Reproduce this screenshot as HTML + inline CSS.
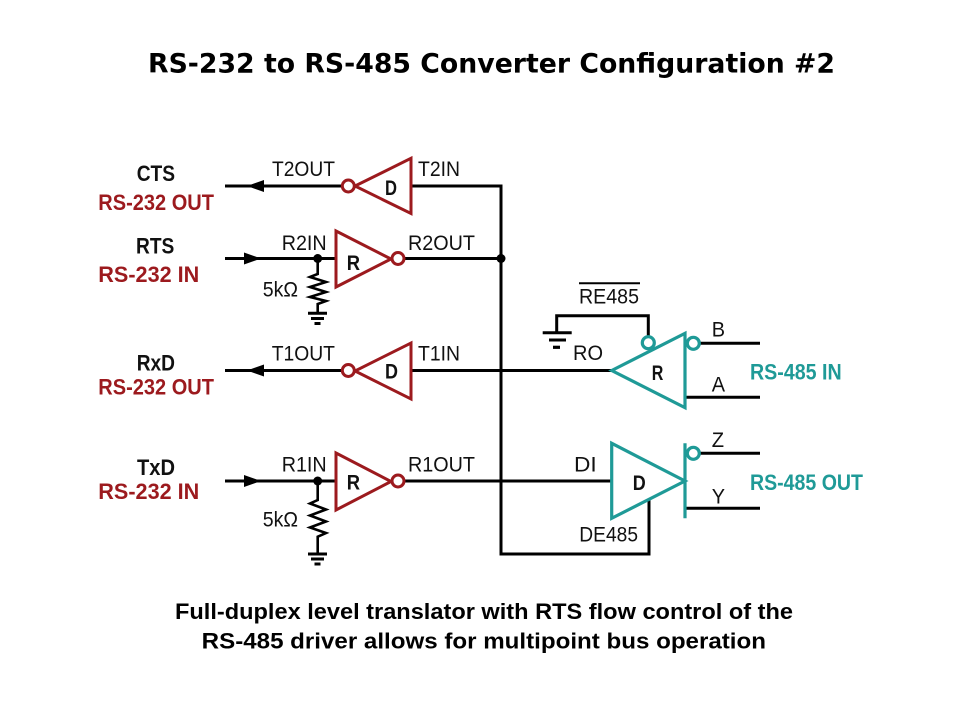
<!DOCTYPE html>
<html>
<head>
<meta charset="utf-8">
<style>
html,body{margin:0;padding:0;background:#fff;}
svg{display:block;}
.pin{font-family:"Liberation Sans",sans-serif;font-size:21px;fill:#111;}
.gate{font-family:"Liberation Sans",sans-serif;font-weight:bold;font-size:21px;fill:#111;}
.lb{font-family:"Liberation Sans",sans-serif;font-weight:bold;font-size:22.5px;fill:#111;}
.lr{font-family:"Liberation Sans",sans-serif;font-weight:bold;font-size:22.5px;fill:#9c1a1e;}
.lt{font-family:"Liberation Sans",sans-serif;font-weight:bold;font-size:22.5px;fill:#1f9a97;}
</style>
</head>
<body>
<svg width="960" height="720" viewBox="0 0 960 720" xmlns="http://www.w3.org/2000/svg">
<rect width="960" height="720" fill="#fff"/>

<!-- Title -->
<text x="148" y="72.3" font-family="'DejaVu Sans',sans-serif" font-weight="bold" font-size="27" fill="#000" textLength="687" lengthAdjust="spacingAndGlyphs">RS-232 to RS-485 Converter Configuration #2</text>

<!-- Left labels -->
<text class="lb" x="136.7" y="181" textLength="38.3" lengthAdjust="spacingAndGlyphs">CTS</text>
<text class="lr" x="98.3" y="210" textLength="115.7" lengthAdjust="spacingAndGlyphs">RS-232 OUT</text>
<text class="lb" x="136" y="253.7" textLength="38.3" lengthAdjust="spacingAndGlyphs">RTS</text>
<text class="lr" x="98.3" y="282" textLength="101" lengthAdjust="spacingAndGlyphs">RS-232 IN</text>
<text class="lb" x="136.7" y="370.7" textLength="38.3" lengthAdjust="spacingAndGlyphs">RxD</text>
<text class="lr" x="98.3" y="394.3" textLength="115.7" lengthAdjust="spacingAndGlyphs">RS-232 OUT</text>
<text class="lb" x="137" y="475" textLength="38" lengthAdjust="spacingAndGlyphs">TxD</text>
<text class="lr" x="98.3" y="499" textLength="101" lengthAdjust="spacingAndGlyphs">RS-232 IN</text>

<!-- Wires -->
<g stroke="#000" stroke-width="3" fill="none" stroke-linecap="butt">
  <!-- row 1 -->
  <line x1="225" y1="186" x2="342" y2="186"/>
  <polyline points="411,186 501,186 501,554 649,554 649,498.8"/>
  <!-- row 2 -->
  <line x1="225" y1="258.5" x2="336" y2="258.5"/>
  <line x1="404" y1="258.5" x2="501" y2="258.5"/>
  <!-- row 3 -->
  <line x1="225" y1="370.5" x2="342" y2="370.5"/>
  <line x1="411" y1="370.5" x2="612" y2="370.5"/>
  <!-- row 4 -->
  <line x1="225" y1="481" x2="336" y2="481"/>
  <line x1="404" y1="481" x2="612" y2="481"/>
  <!-- resistor 1 -->
  <polyline points="317.7,258.5 317.7,274 310,277 326,282 310,287 326,292 310,297 326,301 317.7,304 317.7,313.3" stroke-width="2.6" stroke-linejoin="miter"/>
  <line x1="308" y1="313.3" x2="327" y2="313.3"/>
  <line x1="311" y1="318.5" x2="324" y2="318.5"/>
  <line x1="314.5" y1="323.5" x2="320.5" y2="323.5"/>
  <!-- resistor 2 -->
  <polyline points="317.7,481 317.7,500 310,503.5 326,509.5 310,515.5 326,521.5 310,527.5 326,533 317.7,536.7 317.7,554" stroke-width="2.6" stroke-linejoin="miter"/>
  <line x1="308" y1="554" x2="327" y2="554"/>
  <line x1="311" y1="559" x2="324" y2="559"/>
  <line x1="314.5" y1="564" x2="320.5" y2="564"/>
  <!-- RE485 -->
  <polyline points="648.3,336.5 648.3,315.7 556.7,315.7 556.7,332.7"/>
  <line x1="542.7" y1="332.7" x2="571.7" y2="332.7"/>
  <line x1="549" y1="340" x2="566" y2="340"/>
  <line x1="553" y1="347.3" x2="560" y2="347.3" stroke-width="3.2"/>
  <!-- RS-485 lines -->
  <line x1="699.5" y1="343.3" x2="760" y2="343.3"/>
  <line x1="685" y1="397.3" x2="760" y2="397.3"/>
  <line x1="699.5" y1="453.3" x2="760" y2="453.3"/>
  <line x1="685" y1="508.3" x2="760" y2="508.3"/>
</g>

<!-- Junction dots -->
<circle cx="317.7" cy="258.5" r="4.5" fill="#000"/>
<circle cx="501" cy="258.5" r="4.5" fill="#000"/>
<circle cx="317.7" cy="481" r="4.5" fill="#000"/>

<!-- Arrowheads -->
<polygon points="247,186 264,180 264,192" fill="#000"/>
<polygon points="261,258.5 244,252.5 244,264.5" fill="#000"/>
<polygon points="247,370.5 264,364.5 264,376.5" fill="#000"/>
<polygon points="261,481 244,475 244,487" fill="#000"/>

<!-- Red gates -->
<g stroke="#9c1a1e" stroke-width="3" fill="#fff" stroke-linejoin="miter">
  <polygon points="411,158.3 411,213.5 355,186"/>
  <circle cx="348.3" cy="186" r="6"/>
  <polygon points="336,231 336,287 391,259"/>
  <circle cx="398" cy="258.5" r="6"/>
  <polygon points="411,343 411,399 355,371"/>
  <circle cx="348.3" cy="370.5" r="6"/>
  <polygon points="336,453 336,510 391,481.5"/>
  <circle cx="398" cy="481" r="6"/>
</g>

<!-- Teal gates -->
<g stroke="#1f9a97" stroke-width="3.2" fill="#fff" stroke-linejoin="miter">
  <polygon points="611.7,370.5 685,333.3 685,407.7"/>
  <circle cx="648.3" cy="342.7" r="6"/>
  <circle cx="693.3" cy="343.3" r="6"/>
  <polygon points="611.7,443.3 611.7,518.3 685,481"/>
  <line x1="685" y1="443.3" x2="685" y2="518.3"/>
  <circle cx="693.3" cy="453.3" r="6"/>
</g>

<!-- Gate labels -->
<text class="gate" x="385" y="195" textLength="12" lengthAdjust="spacingAndGlyphs">D</text>
<text class="gate" x="346.7" y="270" textLength="13.3" lengthAdjust="spacingAndGlyphs">R</text>
<text class="gate" x="385" y="378.3" textLength="13" lengthAdjust="spacingAndGlyphs">D</text>
<text class="gate" x="346.7" y="489.3" textLength="13.3" lengthAdjust="spacingAndGlyphs">R</text>
<text class="gate" x="651.7" y="380" textLength="11.6" lengthAdjust="spacingAndGlyphs">R</text>
<text class="gate" x="632.7" y="490" textLength="13" lengthAdjust="spacingAndGlyphs">D</text>

<!-- Pin labels -->
<text class="pin" x="272" y="176" textLength="63" lengthAdjust="spacingAndGlyphs">T2OUT</text>
<text class="pin" x="418" y="176" textLength="42" lengthAdjust="spacingAndGlyphs">T2IN</text>
<text class="pin" x="281.7" y="250" textLength="45" lengthAdjust="spacingAndGlyphs">R2IN</text>
<text class="pin" x="408" y="250" textLength="67" lengthAdjust="spacingAndGlyphs">R2OUT</text>
<text class="pin" x="262.7" y="296.7" textLength="35.3" lengthAdjust="spacingAndGlyphs">5kΩ</text>
<text class="pin" x="271.7" y="360.7" textLength="63.3" lengthAdjust="spacingAndGlyphs">T1OUT</text>
<text class="pin" x="418" y="360.7" textLength="42" lengthAdjust="spacingAndGlyphs">T1IN</text>
<text class="pin" x="281.7" y="471.7" textLength="45" lengthAdjust="spacingAndGlyphs">R1IN</text>
<text class="pin" x="408" y="471.7" textLength="67" lengthAdjust="spacingAndGlyphs">R1OUT</text>
<text class="pin" x="262.7" y="526.7" textLength="35.3" lengthAdjust="spacingAndGlyphs">5kΩ</text>
<text class="pin" x="579" y="303.3" textLength="60" lengthAdjust="spacingAndGlyphs">RE485</text>
<line x1="579" y1="283.3" x2="640" y2="283.3" stroke="#000" stroke-width="2"/>
<text class="pin" x="573" y="360" textLength="30" lengthAdjust="spacingAndGlyphs">RO</text>
<text class="pin" x="711.7" y="336.7" textLength="13.3" lengthAdjust="spacingAndGlyphs">B</text>
<text class="pin" x="711.7" y="391.7" textLength="13.3" lengthAdjust="spacingAndGlyphs">A</text>
<text class="pin" x="711.7" y="447" textLength="12.3" lengthAdjust="spacingAndGlyphs">Z</text>
<text class="pin" x="711.7" y="503.3" textLength="13.3" lengthAdjust="spacingAndGlyphs">Y</text>
<text class="pin" x="574" y="471.7" textLength="22.7" lengthAdjust="spacingAndGlyphs">DI</text>
<text class="pin" x="579.3" y="541.7" textLength="58.7" lengthAdjust="spacingAndGlyphs">DE485</text>

<!-- RS-485 labels -->
<text class="lt" x="750" y="379.3" textLength="91.7" lengthAdjust="spacingAndGlyphs">RS-485 IN</text>
<text class="lt" x="750" y="490" textLength="113" lengthAdjust="spacingAndGlyphs">RS-485 OUT</text>

<!-- Caption -->
<text x="175" y="619" font-family="'Liberation Sans',sans-serif" font-weight="bold" font-size="22.5" fill="#000" textLength="618" lengthAdjust="spacingAndGlyphs">Full-duplex level translator with RTS flow control of the</text>
<text x="201.7" y="648.3" font-family="'Liberation Sans',sans-serif" font-weight="bold" font-size="22.5" fill="#000" textLength="564.3" lengthAdjust="spacingAndGlyphs">RS-485 driver allows for multipoint bus operation</text>
</svg>
</body>
</html>
